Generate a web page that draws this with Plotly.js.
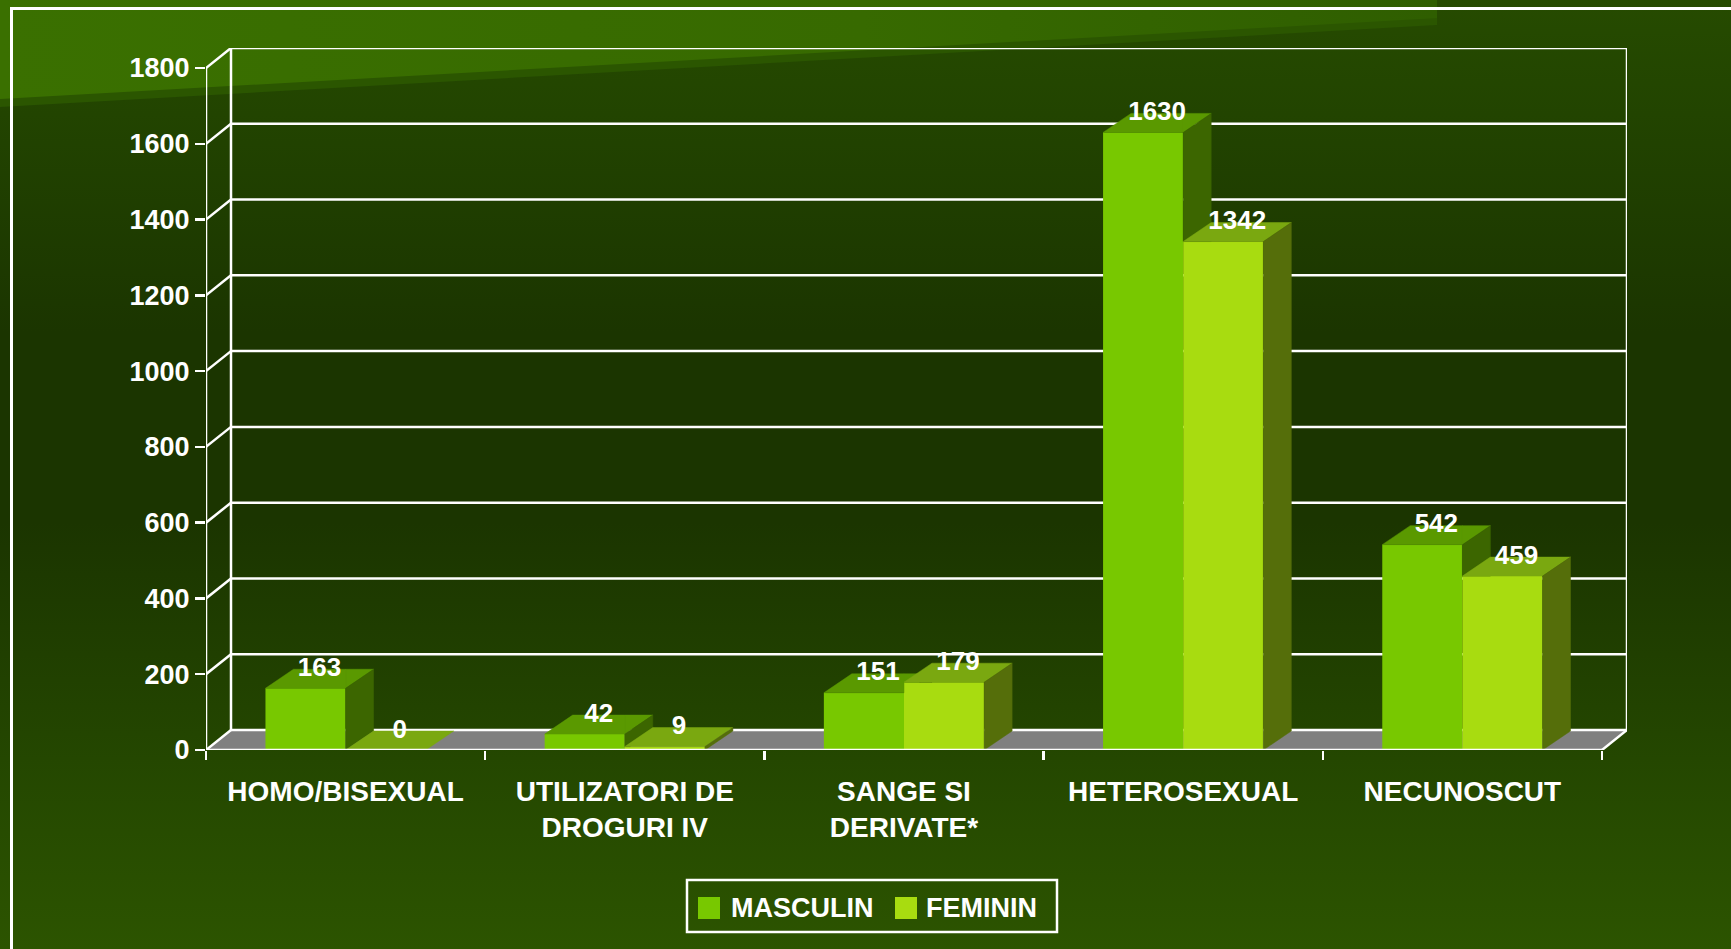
<!DOCTYPE html>
<html>
<head>
<meta charset="utf-8">
<script src="https://cdn.plot.ly/plotly-3.0.1.min.js"></script>
<style>
  html, body { margin: 0; padding: 0; background: #1e3a00; }
  #chart { width: 1731px; height: 949px; }
</style>
</head>
<body>
<div id="chart"></div>
<script>
// ---------------- DATA ----------------
const categories = ['HOMO/BISEXUAL', 'UTILIZATORI DE<br>DROGURI IV', 'SANGE SI<br>DERIVATE*', 'HETEROSEXUAL', 'NECUNOSCUT'];
const seriesNames = ['MASCULIN', 'FEMININ'];
const masculin = [163, 42, 151, 1630, 542];
const feminin = [0, 9, 179, 1342, 459];
const yTickVals = [0, 200, 400, 600, 800, 1000, 1200, 1400, 1600, 1800];

// ---------------- GEOMETRY / STYLE ----------------
const W = 1731, H = 949;
const M = { l: 206, r: 104, t: 48, b: 199 };
const Y_MAX = 1800;
const PX_PER_Y = 682 / Y_MAX;       // front axis: 0 -> 750px, 1800 -> 68px
const PX_PER_X = 279.2;             // one category width in px
const WALL_DX = 25 / PX_PER_X, WALL_DY = 20 / PX_PER_Y;   // depth of back wall
const BAR_DX = 28 / PX_PER_X, BAR_DY = 19 / PX_PER_Y;     // depth of bars
const BW = 0.287;                   // bar width (category units)
const nCat = categories.length;
const X0 = -0.5, X1 = nCat - 0.5;

const FONT = 'Liberation Sans, Arial, Helvetica, sans-serif';
const COL = {
  front: ['#78c800', '#a8dc10'],
  top:   ['#5a9900', '#7aa810'],
  side:  ['#3c6600', '#556e0a'],
  floor: '#808080',
  line:  '#ffffff'
};

// ---------------- BACKGROUND (SVG image) ----------------
const bgSvg =
  '<svg xmlns="http://www.w3.org/2000/svg" width="' + W + '" height="' + H + '">' +
  '<defs>' +
  '<linearGradient id="g" x1="0" y1="0" x2="0" y2="1">' +
  '<stop offset="0" stop-color="#264b00"/><stop offset="0.12" stop-color="#224400"/>' +
  '<stop offset="0.35" stop-color="#1b3500"/><stop offset="0.55" stop-color="#1b3500"/>' +
  '<stop offset="0.8" stop-color="#244700"/><stop offset="1" stop-color="#2c5400"/>' +
  '</linearGradient>' +
  '<linearGradient id="h" x1="0" y1="0" x2="1" y2="0">' +
  '<stop offset="0" stop-color="#3a7000"/><stop offset="0.6" stop-color="#376a00"/><stop offset="1" stop-color="#2f5e00"/>' +
  '</linearGradient>' +
  '</defs>' +
  '<rect x="0" y="0" width="' + W + '" height="' + H + '" fill="url(#g)"/>' +
  '<polygon points="0,0 1437,0 1437,25 0,107" fill="#2b5600"/>' +
  '<polygon points="0,0 1437,0 1437,18 0,99" fill="url(#h)"/>' +
  '<line x1="11.5" y1="8.5" x2="11.5" y2="' + (H + 5) + '" stroke="#ffffff" stroke-width="3"/>' +
  '<line x1="10" y1="8.5" x2="' + (W + 5) + '" y2="8.5" stroke="#ffffff" stroke-width="3"/>' +
  '</svg>';

const plotW = W - M.l - M.r, plotH = H - M.t - M.b;
const pxX = p => (p - M.l) / plotW;
const pxY = p => (H - M.b - p) / plotH;

// ---------------- 3D FACES ----------------
function clipHalf(poly, f) {
  const out = [];
  for (let k = 0; k < poly.length; k++) {
    const a = poly[k], b = poly[(k + 1) % poly.length];
    const fa = f(a), fb = f(b);
    if (fa >= 0) out.push(a);
    if ((fa >= 0) !== (fb >= 0)) {
      const t = fa / (fa - fb);
      out.push([a[0] + t * (b[0] - a[0]), a[1] + t * (b[1] - a[1])]);
    }
  }
  return out;
}
function polyArea(poly) {
  let s = 0;
  for (let k = 0; k < poly.length; k++) {
    const a = poly[k], b = poly[(k + 1) % poly.length];
    s += a[0] * b[1] - b[0] * a[1];
  }
  return Math.abs(s / 2);
}
function topFace(x0, x1, v) {
  return [[x0, v], [x1, v], [x1 + BAR_DX, v + BAR_DY], [x0 + BAR_DX, v + BAR_DY]];
}
function sideFace(x1, v) {
  return [[x1, 0], [x1 + BAR_DX, BAR_DY], [x1 + BAR_DX, v + BAR_DY], [x1, v]];
}
function polysToTrace(polys, color) {
  const xs = [], ys = [];
  polys.forEach(p => {
    if (p.length < 3 || polyArea(p) < 1e-9) return;
    p.forEach(pt => { xs.push(pt[0]); ys.push(pt[1]); });
    xs.push(p[0][0]); ys.push(p[0][1]);
    xs.push(null); ys.push(null);
  });
  return {
    type: 'scatter', mode: 'lines', x: xs, y: ys, fill: 'toself',
    fillcolor: color, line: { width: 0.5, color: color },
    hoverinfo: 'skip', showlegend: false
  };
}

const idx = categories.map((_, i) => i);
const mTop = [], mSide = [], fTop = [], fSide = [];
idx.forEach(i => {
  const vm = masculin[i], vf = feminin[i];
  // masculin faces, minus the part hidden behind the feminin front face
  const hide = poly => {
    const left = clipHalf(poly, p => i - p[0]);
    const right = clipHalf(clipHalf(poly, p => p[0] - i), p => p[1] - vf);
    return [left, right];
  };
  hide(topFace(i - BW, i, vm)).forEach(p => mTop.push(p));
  hide(sideFace(i, vm)).forEach(p => mSide.push(p));
  fTop.push(topFace(i, i + BW, vf));
  fSide.push(sideFace(i + BW, vf));
});

const traces = [
  { type: 'bar', name: seriesNames[0], x: idx, y: masculin, offset: -BW, width: BW,
    marker: { color: COL.front[0], line: { width: 0 } }, hoverinfo: 'skip', showlegend: false },
  { type: 'bar', name: seriesNames[1], x: idx, y: feminin, offset: 0, width: BW,
    marker: { color: COL.front[1], line: { width: 0 } }, hoverinfo: 'skip', showlegend: false },
  polysToTrace(mTop, COL.top[0]),
  polysToTrace(mSide, COL.side[0]),
  polysToTrace(fTop, COL.top[1]),
  polysToTrace(fSide, COL.side[1]),
  { type: 'scatter', mode: 'text',
    x: idx.map(i => i - BW / 2 + BAR_DX / 2).concat(idx.map(i => i + BW / 2 + BAR_DX / 2)),
    y: masculin.map(v => v + BAR_DY).concat(feminin.map(v => v + BAR_DY)),
    text: masculin.map(String).concat(feminin.map(String)),
    textposition: 'middle center',
    textfont: { family: FONT, size: 26, color: '#ffffff', weight: 'bold' },
    cliponaxis: false, hoverinfo: 'skip', showlegend: false }
];

// ---------------- AXIS DECORATION SHAPES ----------------
const shapes = [];
const L = (x0, y0, x1, y1, layer) => ({
  type: 'line', xref: 'x', yref: 'y', x0, y0, x1, y1,
  line: { color: COL.line, width: 2.5 }, layer: layer || 'below'
});
// floor
shapes.push({
  type: 'path', xref: 'x', yref: 'y', layer: 'below',
  path: 'M' + X0 + ',0 L' + X1 + ',0 L' + (X1 + WALL_DX) + ',' + WALL_DY +
        ' L' + (X0 + WALL_DX) + ',' + WALL_DY + ' Z',
  fillcolor: COL.floor, line: { width: 0 }
});
// back wall gridlines and left connectors
yTickVals.forEach(v => {
  shapes.push(L(X0 + WALL_DX, v + WALL_DY, X1 + WALL_DX, v + WALL_DY));
  shapes.push(L(X0, v, X0 + WALL_DX, v + WALL_DY));
});
shapes.push(L(X0 + WALL_DX, WALL_DY, X0 + WALL_DX, Y_MAX + WALL_DY));
shapes.push(L(X1 + WALL_DX, WALL_DY, X1 + WALL_DX, Y_MAX + WALL_DY));
shapes.push(L(X1, 0, X1 + WALL_DX, WALL_DY));
shapes.push(L(X0, 0, X0, Y_MAX));
shapes.push(L(X0, 0, X1, 0, 'above'));

// ---------------- LEGEND (box, swatches, labels) ----------------
shapes.push({ type: 'rect', xref: 'paper', yref: 'paper',
  x0: pxX(687), x1: pxX(1057), y0: pxY(932), y1: pxY(880),
  line: { color: '#ffffff', width: 2.5 }, fillcolor: 'rgba(0,0,0,0)' });
const legX = [698, 895], legTextX = [729, 924];
seriesNames.forEach((n, k) => {
  shapes.push({ type: 'rect', xref: 'paper', yref: 'paper',
    x0: pxX(legX[k]), x1: pxX(legX[k] + 22), y0: pxY(919), y1: pxY(897),
    line: { width: 0 }, fillcolor: COL.front[k] });
});
const annotations = seriesNames.map((n, k) => ({
  xref: 'paper', yref: 'paper', x: pxX(legTextX[k]), y: pxY(908),
  xanchor: 'left', yanchor: 'middle', showarrow: false, text: n,
  font: { family: FONT, size: 27, color: '#ffffff', weight: 'bold' }
}));

const layout = {
  width: W, height: H,
  margin: M,
  paper_bgcolor: '#1e3a00',
  plot_bgcolor: 'rgba(0,0,0,0)',
  showlegend: false,
  barmode: 'overlay',
  images: [{
    source: 'data:image/svg+xml;charset=utf-8,' + encodeURIComponent(bgSvg),
    xref: 'paper', yref: 'paper', x: pxX(0), y: pxY(0),
    sizex: W / plotW, sizey: H / plotH, sizing: 'stretch',
    xanchor: 'left', yanchor: 'top', layer: 'below'
  }],
  xaxis: {
    type: 'linear', range: [X0, X1 + WALL_DX],
    tickmode: 'array', tickvals: idx, ticktext: categories,
    ticks: '', showgrid: false, zeroline: false, showline: false,
    tickfont: { family: FONT, size: 28, color: '#ffffff', weight: 'bold' },
    ticklabelstandoff: 22,
    minor: { tickmode: 'array', tickvals: idx.map(i => i - 0.5).concat([X1]),
             ticks: 'outside', ticklen: 9, tickwidth: 2.5, tickcolor: '#ffffff', showgrid: false },
    fixedrange: true
  },
  yaxis: {
    range: [0, Y_MAX + WALL_DY],
    tickmode: 'array', tickvals: yTickVals,
    ticks: 'outside', ticklen: 10, tickwidth: 2.5, tickcolor: '#ffffff',
    showgrid: false, zeroline: false, showline: false,
    tickfont: { family: FONT, size: 27, color: '#ffffff', weight: 'bold' },
    fixedrange: true
  },
  shapes: shapes,
  annotations: annotations
};

Plotly.newPlot('chart', traces, layout, { displayModeBar: false, staticPlot: true });
</script>
</body>
</html>
